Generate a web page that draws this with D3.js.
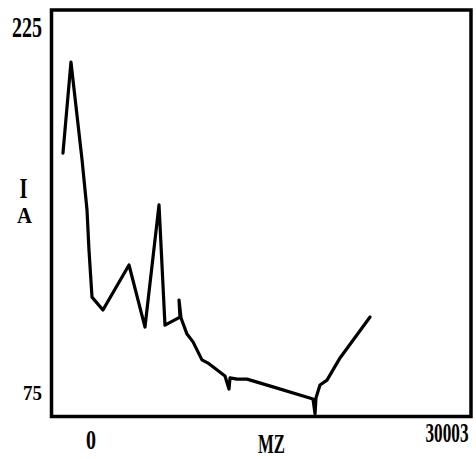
<!DOCTYPE html>
<html>
<head>
<meta charset="utf-8">
<script src="https://cdn.jsdelivr.net/npm/d3@7"></script>
<style>
  html, body { margin: 0; padding: 0; background: #fff; }
  svg { display: block; }
  text { font-family: "Liberation Serif", "DejaVu Serif", serif; fill: #000; font-weight: bold; }
</style>
</head>
<body>
<svg id="chart" width="476" height="459"></svg>
<script>
// ---- data ----
const mz = [-2350, -1680, -750, -335, -170, 85, 1000, 3185, 4525, 5700, 6200, 7460, 7375, 7545,
            8045, 8550, 9300, 9805, 11230, 11565, 11650, 12235, 13075, 15250, 18605, 18775, 18855,
            19190, 19780, 20870, 23385];
const intensity = [173.2, 210.6, 170.4, 149.8, 133.4, 114.0, 108.7, 127.2, 101.7, 151.9, 102.5, 105.8, 112.8, 105.4,
                   98.8, 95.6, 88.2, 86.9, 81.6, 76.2, 80.8, 80.3, 80.3, 77.1, 72.1, 66.0, 72.5,
                   77.9, 79.9, 89.0, 105.8];
const xTicks = [0, 30003];
const yTicks = [75, 225];
const xTitle = "MZ";
const yTitle = ["I", "A"];

// ---- layout ----
const svg = d3.select("#chart");
const frame = { left: 51.5, top: 10, right: 471, bottom: 416.5 };

const x = d3.scaleLinear().domain([0, 30003]).range([91, 449]);
const y = d3.scaleLinear().domain([75, 225]).range([392, 27]);

// condensed text: left edge x0, baseline yb, target width w
function fitText(str, x0, yb, size, w) {
  const t = svg.append("text")
    .attr("x", 0).attr("y", 0)
    .attr("font-size", size)
    .text(str);
  const nat = t.node().getComputedTextLength();
  const s = w / nat;
  t.attr("transform", `translate(${x0},${yb}) scale(${s},1)`);
  return t;
}

// frame
svg.append("rect")
  .attr("x", frame.left).attr("y", frame.top)
  .attr("width", frame.right - frame.left)
  .attr("height", frame.bottom - frame.top)
  .attr("fill", "none").attr("stroke", "#000").attr("stroke-width", 3.5);

// line
const pts = mz.map((m, i) => [m, intensity[i]]);
svg.append("path")
  .datum(pts)
  .attr("fill", "none")
  .attr("stroke", "#000")
  .attr("stroke-width", 3.2)
  .attr("stroke-linejoin", "round")
  .attr("stroke-linecap", "round")
  .attr("d", d3.line().x(d => x(d[0])).y(d => y(d[1])));

// y tick labels (right-aligned at x=42)
const yLabelCfg = { 225: { size: 29, len: 30, dy: 10 }, 75: { size: 22, len: 19, dy: 8 } };
yTicks.forEach(v => {
  const c = yLabelCfg[v];
  fitText(String(v), 42 - c.len, y(v) + c.dy, c.size, c.len);
});

// x tick labels (centred on their value)
const xLabelCfg = { 0: { len: 10, base: 449, shift: 0 }, 30003: { len: 43, base: 442, shift: -2 } };
xTicks.forEach(v => {
  const c = xLabelCfg[v];
  fitText(String(v), x(v) - c.len / 2 + c.shift, c.base, 27, c.len);
});

// x title
fitText(xTitle, 258, 453, 27, 27);

// y title (stacked, one text element)
const yt = svg.append("text");
yt.append("tspan")
  .attr("x", 19.5).attr("y", 198)
  .attr("font-size", 30)
  .attr("textLength", 8).attr("lengthAdjust", "spacingAndGlyphs")
  .text(yTitle[0]);
yt.append("tspan")
  .attr("x", 17).attr("y", 223)
  .attr("font-size", 24)
  .attr("textLength", 15).attr("lengthAdjust", "spacingAndGlyphs")
  .text(yTitle[1]);
</script>
</body>
</html>
